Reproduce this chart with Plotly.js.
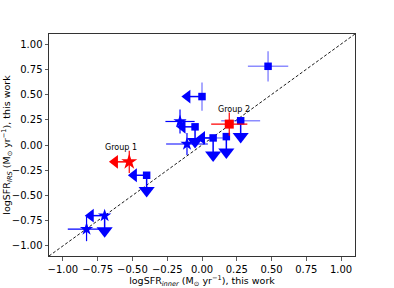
<!DOCTYPE html>
<html><head><meta charset="utf-8">
<script src="https://cdn.plot.ly/plotly-3.0.1.min.js"></script>
<style>body{margin:0;padding:0;background:#fff}#c{width:394px;height:288px}</style>
</head><body><div id="c"></div>
<script>
// Blue squares
const sqX    = [0.475, 0.0, -0.05, 0.08, 0.175, 0.278, -0.398];
const sqY    = [0.78, 0.48, 0.18, 0.07, 0.083, 0.24, -0.30];
const sqXerr = [0.145, 0, 0, 0.07, 0, 0.14, 0];
const sqYerr = [0.15, 0.14, 0, 0, 0, 0, 0];
const sqXlim = [null, -0.105, -0.14, 0.0, null, null, -0.49];   // x upper-limit arrow positions
const sqYlim = [null, null, 0.035, -0.10, -0.07, 0.085, -0.45]; // y upper-limit arrow positions
// Blue stars
const stX    = [-0.158, -0.108, -0.70, -0.83];
const stY    = [0.233, 0.01, -0.70, -0.833];
const stXerr = [0.105, 0.15, 0, 0.135];
const stYerr = [0.12, 0.11, 0, 0.12];
const stXlim = [null, null, -0.80, null];
const stYlim = [null, null, -0.85, null];
// Red: Group 1 (star) and Group 2 (square)
const g1X = [-0.523], g1Y = [-0.167], g1Xerr = [0], g1Yerr = [0.11], g1Xlim = [-0.626];
const g2X = [0.196],  g2Y = [0.207],  g2Xerr = [0.13], g2Yerr = [0.115];
const groupLabels = ['Group 1', 'Group 2'];
const groupLabelX = [-0.583, 0.23];
const groupLabelY = [-0.02, 0.35];
const xTicks = [-1, -0.75, -0.5, -0.25, 0, 0.25, 0.5, 0.75, 1];
const yTicks = [-1, -0.75, -0.5, -0.25, 0, 0.25, 0.5, 0.75, 1];
const oneToOne = [-1.1, 1.1];

const BLUE = '#0000ff', RED = '#ff0000', LBLUE = 'rgba(0,0,255,0.45)';
const fmt = v => (v < 0 ? '\u2212' : '') + Math.abs(v).toFixed(2);

function limLines(xs, ys, xl, yl) {
  const lx = [], ly = [], ax = [], ay = [], dx = [], dy = [];
  xs.forEach((x, i) => {
    if (xl[i] !== null) { lx.push(x, xl[i], null); ly.push(ys[i], ys[i], null); ax.push(xl[i]); ay.push(ys[i]); }
    if (yl[i] !== null) { lx.push(x, x, null); ly.push(ys[i], yl[i], null); dx.push(x); dy.push(yl[i]); }
  });
  return {lx, ly, ax, ay, dx, dy};
}
const bs = limLines(sqX, sqY, sqXlim, sqYlim);
const bt = limLines(stX, stY, stXlim, stYlim);
const rl = limLines(g1X, g1Y, g1Xlim, [null]);

const traces = [
  {x: oneToOne, y: oneToOne, mode: 'lines', line: {color: 'black', width: 0.9, dash: '3px,2px'}},
  {x: bs.lx.concat(bt.lx), y: bs.ly.concat(bt.ly), mode: 'lines', line: {color: BLUE, width: 1.5}},
  {x: rl.lx, y: rl.ly, mode: 'lines', line: {color: RED, width: 1.5}},
  {x: bs.ax.concat(bt.ax), y: bs.ay.concat(bt.ay), mode: 'markers', marker: {symbol: 'triangle-left', size: 12, color: BLUE}},
  {x: bs.dx.concat(bt.dx), y: bs.dy.concat(bt.dy), mode: 'markers', marker: {symbol: 'triangle-down', size: 14, color: BLUE}},
  {x: rl.ax, y: rl.ay, mode: 'markers', marker: {symbol: 'triangle-left', size: 12, color: RED}},
  {x: sqX, y: sqY, mode: 'markers', marker: {symbol: 'square', size: 7.5, color: BLUE},
   error_x: {type: 'data', array: sqXerr, color: LBLUE, thickness: 1.5, width: 0},
   error_y: {type: 'data', array: sqYerr, color: LBLUE, thickness: 1.5, width: 0}},
  {x: stX, y: stY, mode: 'markers', marker: {symbol: 'star', size: 10, color: BLUE},
   error_x: {type: 'data', array: stXerr, color: BLUE, thickness: 1.2, width: 0},
   error_y: {type: 'data', array: stYerr, color: BLUE, thickness: 1.2, width: 0}},
  {x: g1X, y: g1Y, mode: 'markers', marker: {symbol: 'star', size: 12, color: RED},
   error_x: {type: 'data', array: g1Xerr, color: RED, thickness: 1.2, width: 0},
   error_y: {type: 'data', array: g1Yerr, color: RED, thickness: 1.2, width: 0}},
  {x: g2X, y: g2Y, mode: 'markers', marker: {symbol: 'square', size: 9, color: RED},
   error_x: {type: 'data', array: g2Xerr, color: RED, thickness: 1.2, width: 0},
   error_y: {type: 'data', array: g2Yerr, color: RED, thickness: 1.2, width: 0}}
];

const axisBase = {
  range: [-1.1, 1.1], showgrid: false, zeroline: false, showline: true, mirror: true,
  linecolor: '#333', linewidth: 1, ticks: 'outside', ticklen: 3.5, tickwidth: 0.8, tickcolor: '#333',
  tickfont: {family: 'DejaVu Sans', size: 10, color: 'black'}
};
const layout = {
  width: 394, height: 288, showlegend: false,
  paper_bgcolor: 'white', plot_bgcolor: 'white',
  margin: {l: 49, r: 39, t: 34, b: 32},
  xaxis: Object.assign({}, axisBase, {tickvals: xTicks, ticktext: xTicks.map(fmt),
    title: {text: 'logSFR<sub><i>inner</i></sub> (M<sub>\u2299</sub> yr<sup>\u22121</sup>), this work',
            font: {family: 'DejaVu Sans', size: 9.5, color: 'black'}, standoff: 0}}),
  yaxis: Object.assign({}, axisBase, {tickvals: yTicks, ticktext: yTicks.map(fmt),
    title: {text: 'logSFR<sub><i>IRS</i></sub> (M<sub>\u2299</sub> yr<sup>\u22121</sup>), this work',
            font: {family: 'DejaVu Sans', size: 9.5, color: 'black'}, standoff: 3}}),
  annotations: groupLabels.map((t, i) => ({x: groupLabelX[i], y: groupLabelY[i], text: t, showarrow: false,
    xref: 'x', yref: 'y', font: {family: 'DejaVu Sans', size: 8, color: 'black'}}))
};
Plotly.newPlot('c', traces, layout, {displayModeBar: false, staticPlot: true});
</script></body></html>
